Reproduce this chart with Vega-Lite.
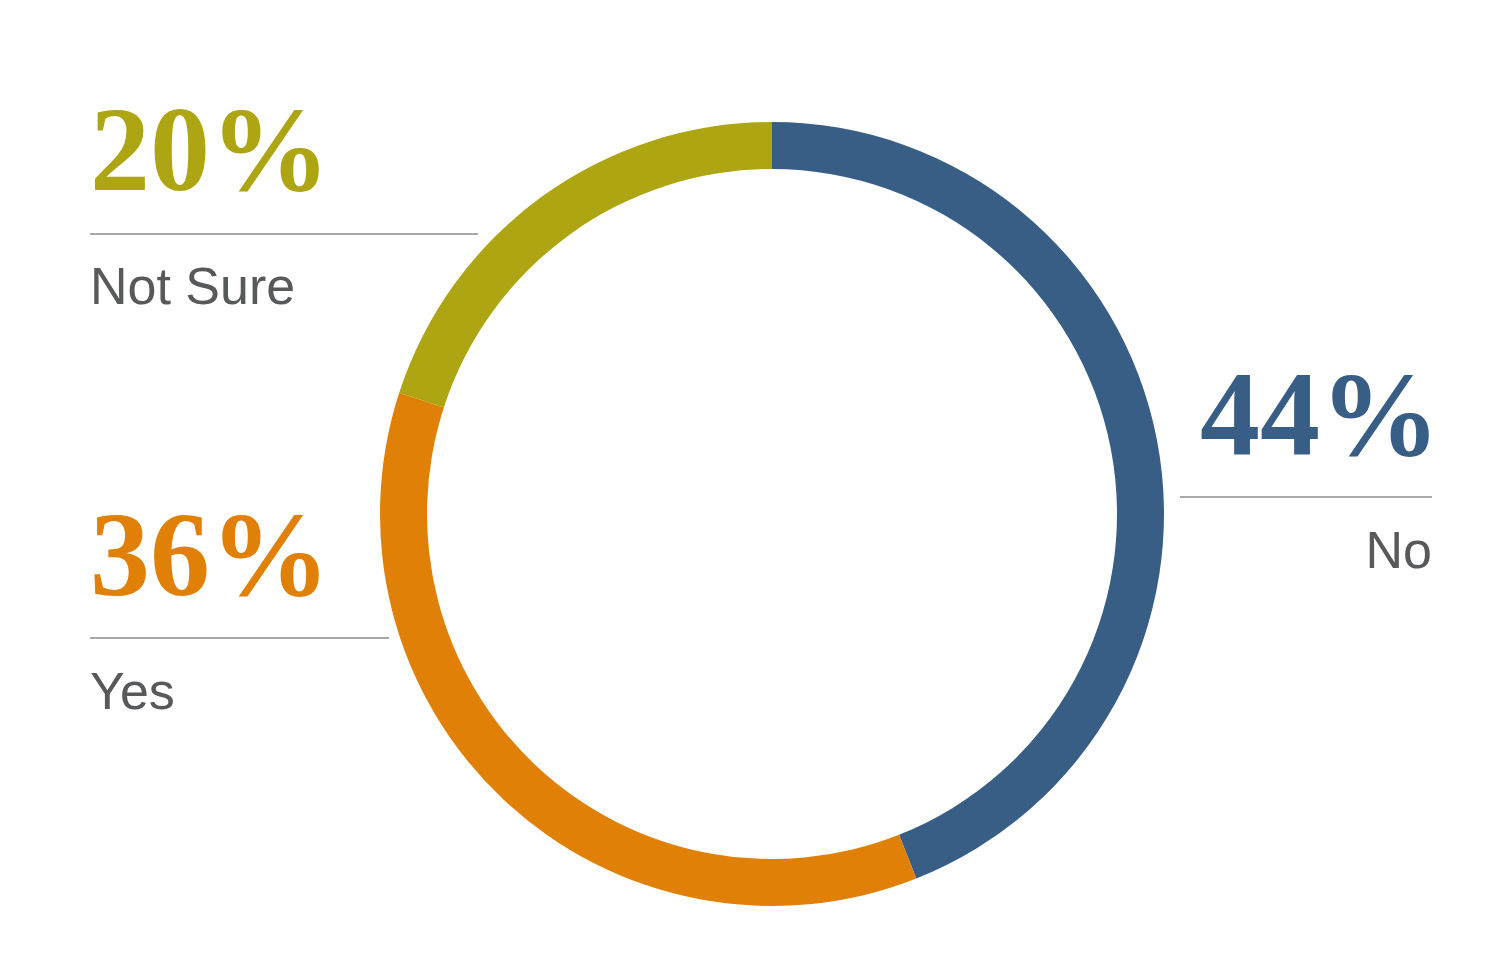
{
  "$schema": "https://vega.github.io/schema/vega-lite/v6.json",
  "width": 1500,
  "height": 974,
  "autosize": {"type": "fit", "contains": "padding"},
  "padding": {"left": 44, "top": 54, "right": 0, "bottom": 0},
  "background": "#ffffff",
  "config": {"view": {"stroke": null}},
  "data": {
    "values": [
      {"category": "No", "value": 0.44, "seq": 1, "side": "right"},
      {"category": "Yes", "value": 0.36, "seq": 2, "side": "left"},
      {"category": "Not Sure", "value": 0.20, "seq": 3, "side": "left"}
    ]
  },
  "encoding": {
    "color": {
      "field": "category",
      "type": "nominal",
      "scale": {"domain": ["No", "Yes", "Not Sure"], "range": ["#385e86", "#e08007", "#ada512"]},
      "legend": null
    }
  },
  "layer": [
    {
      "mark": {"type": "arc", "outerRadius": 392, "innerRadius": 345},
      "encoding": {
        "theta": {"field": "value", "type": "quantitative", "stack": true},
        "order": {"field": "seq", "type": "quantitative"}
      }
    },
    {
      "transform": [{"filter": "datum.side === 'left'"}],
      "mark": {"type": "text", "align": "left", "baseline": "alphabetic", "font": "Liberation Serif", "fontWeight": "bold", "fontSize": 120},
      "encoding": {
        "x": {"field": "side", "type": "nominal", "scale": {"type": "point", "domain": ["left", "right"], "range": [46, 1388], "padding": 0}, "axis": null},
        "y": {"field": "category", "type": "nominal", "scale": {"type": "point", "domain": ["Not Sure", "No", "Yes"], "range": [136, 541], "padding": 0}, "axis": null},
        "text": {"field": "value", "type": "quantitative", "format": ".0%"}
      }
    },
    {
      "transform": [{"filter": "datum.side === 'right'"}],
      "mark": {"type": "text", "align": "right", "baseline": "alphabetic", "dx": 8, "dy": 62.5, "font": "Liberation Serif", "fontWeight": "bold", "fontSize": 120},
      "encoding": {
        "x": {"field": "side", "type": "nominal"},
        "y": {"field": "category", "type": "nominal"},
        "text": {"field": "value", "type": "quantitative", "format": ".0%"}
      }
    },
    {
      "transform": [{"filter": "datum.side === 'left'"}],
      "mark": {"type": "text", "align": "left", "baseline": "alphabetic", "dy": 114, "font": "Liberation Sans", "fontSize": 52, "color": "#58595b"},
      "encoding": {
        "x": {"field": "side", "type": "nominal"},
        "y": {"field": "category", "type": "nominal"},
        "text": {"field": "category", "type": "nominal"},
        "color": {"value": "#58595b"}
      }
    },
    {
      "transform": [{"filter": "datum.side === 'right'"}],
      "mark": {"type": "text", "align": "right", "baseline": "alphabetic", "dy": 175.5, "font": "Liberation Sans", "fontSize": 52, "color": "#58595b"},
      "encoding": {
        "x": {"field": "side", "type": "nominal"},
        "y": {"field": "category", "type": "nominal"},
        "text": {"field": "category", "type": "nominal"},
        "color": {"value": "#58595b"}
      }
    },
    {
      "transform": [{"filter": "datum.category === 'Not Sure'"}],
      "mark": {"type": "rule", "x2Offset": 388, "yOffset": 44, "strokeWidth": 1.5, "color": "#8c8c8c"},
      "encoding": {
        "x": {"field": "side", "type": "nominal"},
        "x2": {"field": "side"},
        "y": {"field": "category", "type": "nominal"},
        "color": {"value": "#8c8c8c"}
      }
    },
    {
      "transform": [{"filter": "datum.category === 'Yes'"}],
      "mark": {"type": "rule", "x2Offset": 299, "yOffset": 43, "strokeWidth": 1.5, "color": "#8c8c8c"},
      "encoding": {
        "x": {"field": "side", "type": "nominal"},
        "x2": {"field": "side"},
        "y": {"field": "category", "type": "nominal"},
        "color": {"value": "#8c8c8c"}
      }
    },
    {
      "transform": [{"filter": "datum.category === 'No'"}],
      "mark": {"type": "rule", "x2Offset": -252, "yOffset": 104.5, "strokeWidth": 1.5, "color": "#8c8c8c"},
      "encoding": {
        "x": {"field": "side", "type": "nominal"},
        "x2": {"field": "side"},
        "y": {"field": "category", "type": "nominal"},
        "color": {"value": "#8c8c8c"}
      }
    }
  ]
}
